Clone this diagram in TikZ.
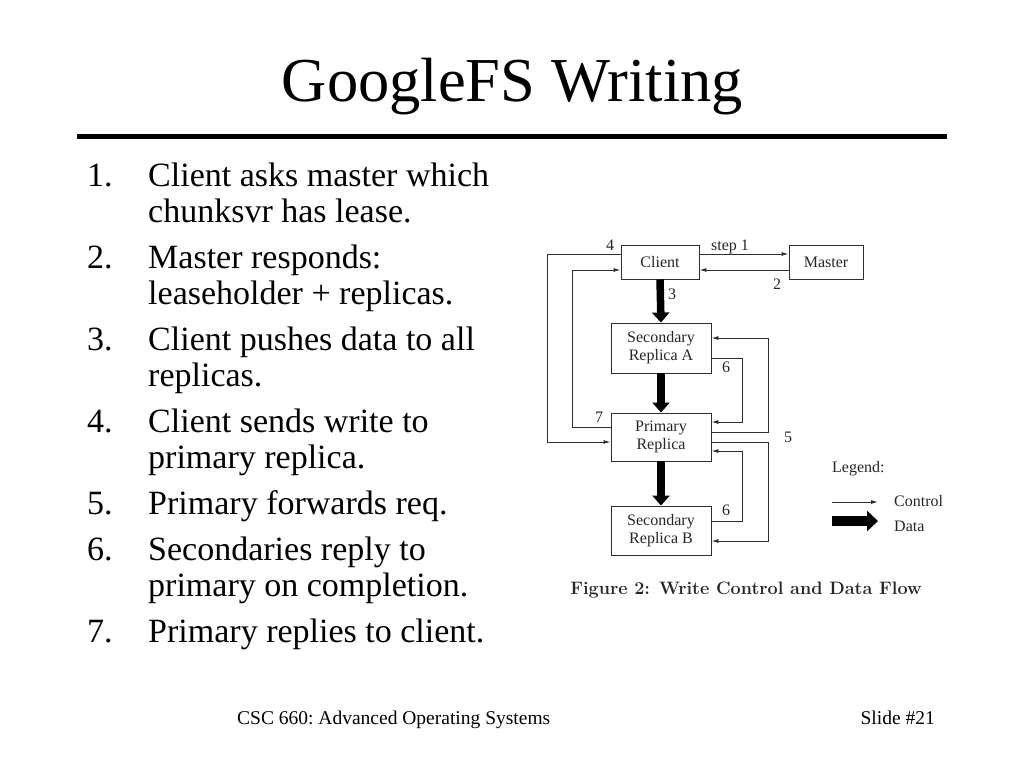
\documentclass[tikz,border=0pt]{standalone}
\usepackage{fontspec}
\newfontfamily\tnr{Liberation Serif}
\usetikzlibrary{arrows.meta,calc}
\begin{document}
\begin{tikzpicture}[x=1pt,y=-1pt,
  ink/.style={draw=black!82, line width=0.95pt},
  box/.style={ink, rectangle, inner sep=0pt, align=center, font=\tnr\fontsize{16}{18}\selectfont, text=black!85},
  ctrl/.style={ink, -{Latex[length=7pt,width=4pt]}},
  datarr/.style={draw=black, line width=7.5pt, -{Triangle[length=10pt,width=17pt]}},
  lbl/.style={font=\tnr\fontsize{16}{18}\selectfont, text=black!85, inner sep=0pt, anchor=base west},
  itemnum/.style={font=\tnr\fontsize{34}{36}\selectfont\frenchspacing, inner sep=0pt, anchor=base west},
  itemtxt/.style={font=\tnr\fontsize{34}{36}\selectfont\frenchspacing, inner sep=0pt, anchor=base west},
  foot/.style={font=\tnr\fontsize{19.5}{22}\selectfont\frenchspacing, inner sep=0pt}
]
\useasboundingbox[fill=white] (0,0) rectangle (1024,768);

% title and rule
\node[font=\tnr\fontsize{62.5}{66}\selectfont, inner sep=0pt, anchor=base] (title) at (512.5,101) {GoogleFS Writing};
\coordinate (rl) at (77,136.5);
\coordinate (rr) at (947,136.5);
\draw[line width=4.5pt] (rl) -- (rr);

% list
\node[itemnum] (n1) at (87,186) {1.};
\node[itemtxt] (t1a) at (148,186) {Client asks master which};
\node[itemtxt] (t1b) at (148,222) {chunksvr has lease.};
\node[itemnum] (n2) at (87,268) {2.};
\node[itemtxt] (t2a) at (148,268) {Master responds:};
\node[itemtxt] (t2b) at (148,304) {leaseholder + replicas.};
\node[itemnum] (n3) at (87,350) {3.};
\node[itemtxt] (t3a) at (148,350) {Client pushes data to all};
\node[itemtxt] (t3b) at (148,386) {replicas.};
\node[itemnum] (n4) at (87,432) {4.};
\node[itemtxt] (t4a) at (148,432) {Client sends write to};
\node[itemtxt] (t4b) at (148,468) {primary replica.};
\node[itemnum] (n5) at (87,514) {5.};
\node[itemtxt] (t5a) at (148,514) {Primary forwards req.};
\node[itemnum] (n6) at (87,560) {6.};
\node[itemtxt] (t6a) at (148,560) {Secondaries reply to};
\node[itemtxt] (t6b) at (148,596) {primary on completion.};
\node[itemnum] (n7) at (87,642) {7.};
\node[itemtxt] (t7a) at (148,642) {Primary replies to client.};

% footer
\node[foot, anchor=base west] (fl) at (237,724) {CSC 660: Advanced Operating Systems};
\node[foot, anchor=base east] (fr) at (935,724) {Slide \#21};

% diagram boxes
\node[box, minimum width=78pt, minimum height=34pt] (client) at (660,262) {Client};
\node[box, minimum width=74pt, minimum height=34pt] (master) at (826,262) {Master};
\node[box, minimum width=100pt, minimum height=50pt] (secA) at (661,348) {Secondary\\Replica A};
\node[box, minimum width=100pt, minimum height=48pt] (prim) at (661,437) {Primary\\Replica};
\node[box, minimum width=100pt, minimum height=49pt] (secB) at (661,530.5) {Secondary\\Replica B};

% data flow
\draw[datarr] (client.south) -- (secA.north);
\draw[datarr] (secA.south) -- (prim.north);
\draw[datarr] (prim.south) -- (secB.north);

% control flow
\draw[ctrl] ($(client.east)+(0,-8)$) -- ($(master.west)+(0,-8)$);
\draw[ctrl] ($(master.west)+(0,8)$) -- ($(client.east)+(0,8)$);
\draw[ctrl] ($(client.west)+(0,-8)$) -- ++(-73,0) |- ($(prim.west)+(0,5)$);
\draw[ctrl] ($(prim.west)+(0,-10)$) -- ++(-38,0) |- ($(client.west)+(0,8)$);
\draw[ctrl] ($(prim.east)+(0,-5)$) -- ++(57,0) |- ($(secA.east)+(0,-10)$);
\draw[ctrl] ($(prim.east)+(0,5)$) -- ++(57,0) |- ($(secB.east)+(0,10.5)$);
\draw[ctrl] ($(secA.east)+(0,10)$) -- ++(31,0) |- ($(prim.east)+(0,-15)$);
\draw[ctrl] ($(secB.east)+(0,-9.5)$) -- ++(31,0) |- ($(prim.east)+(0,14)$);

% labels
\node[lbl] (ls1) at (711,250) {step 1};
\node[lbl] (l2) at (773,289) {2};
\node[lbl] (l4) at (606,250) {4};
\node[lbl] (l3) at (668,299) {3};
\node[lbl] (l6a) at (722,372) {6};
\node[lbl] (l7) at (595,422) {7};
\node[lbl] (l5) at (784,442) {5};
\node[lbl] (l6b) at (722,515) {6};

% legend
\node[lbl] (leg) at (832,472) {Legend:};
\coordinate (cl1) at (832,502);
\coordinate (cl2) at (878,502);
\draw[ctrl] (cl1) -- (cl2);
\node[lbl] (lc) at (894,506) {Control};
\coordinate (dl1) at (832,521);
\coordinate (dl2) at (878,521);
\draw[draw=black, line width=10pt, -{Triangle[length=11pt,width=20pt]}] (dl1) -- (dl2);
\node[lbl] (ld) at (894,531) {Data};

% caption
\node[font=\bfseries\fontsize{18}{20}\selectfont, inner sep=0pt, anchor=base, text=black!85] (cap) at (746,594) {Figure 2: Write Control and Data Flow};
\end{tikzpicture}
\end{document}
